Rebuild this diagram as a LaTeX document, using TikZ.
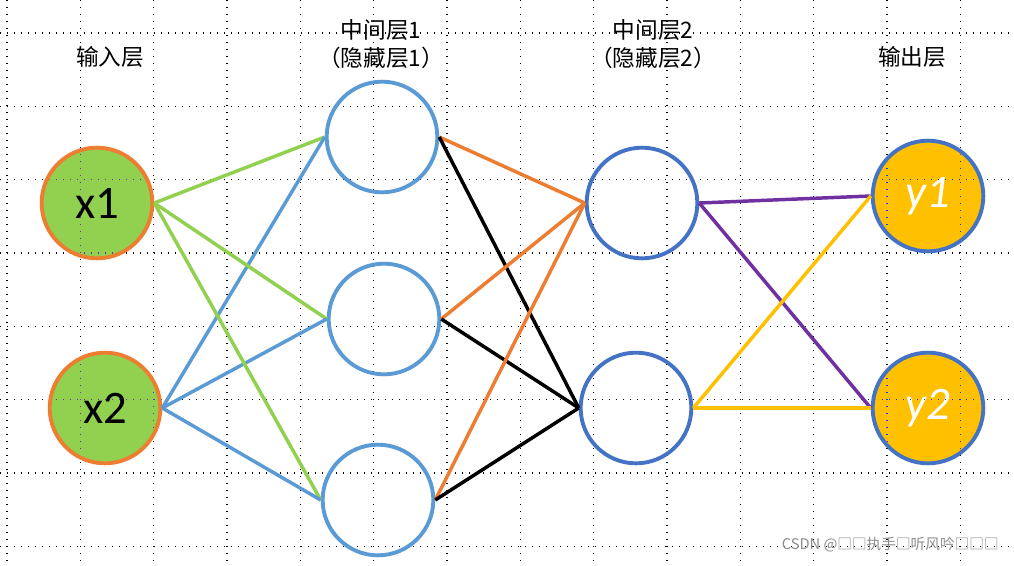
\documentclass[tikz,border=0pt]{standalone}
\usepackage{fontspec}
\newfontfamily\cjkfont{Noto Sans CJK SC}
\newfontfamily\calfont{Carlito}
\definecolor{ingreen}{RGB}{146,208,80}
\definecolor{inorange}{RGB}{237,125,49}
\definecolor{hidblue}{RGB}{91,155,213}
\definecolor{darkblue}{RGB}{68,114,196}
\definecolor{outgold}{RGB}{255,192,0}
\definecolor{purp}{RGB}{112,48,160}
\definecolor{dotgreen}{RGB}{109,47,175}
\definecolor{dotgold}{RGB}{0,63,255}
\newcommand\mygrid[1]{%
  \foreach \i in {0,...,13} \draw[gridline,#1] ({7+73.33*\i},0) -- ({7+73.33*\i},565);
  \foreach \j in {0,...,7} \draw[gridline,#1] (0,{33+73.33*\j}) -- (1014,{33+73.33*\j});
}
\begin{document}
\begin{tikzpicture}[x=0.75pt,y=-0.75pt,
  gridline/.style={line width=0.8pt, dash pattern=on 0.8pt off 4.45pt},
  base/.style={circle, minimum size=83pt, inner sep=0pt},
  innode/.style={base, line width=2.9pt, draw=inorange, fill=ingreen, font=\calfont\fontsize{35}{40}\selectfont},
  hidnode/.style={base, line width=2.9pt, draw=hidblue},
  hidtwo/.style={base, line width=2.9pt, draw=darkblue},
  outnode/.style={base, line width=2.9pt, draw=darkblue, fill=outgold, text=white, font=\calfont\itshape\fontsize{35}{40}\selectfont},
  conn/.style={line width=2.6pt},
  lab/.style={font=\cjkfont\fontsize{17}{20.5}\selectfont, align=center, inner sep=0pt}
]
\fill[white] (0,0) rectangle (1014,565);
\useasboundingbox (0,0) rectangle (1014,565);
\mygrid{black}
% nodes
\node[innode] (x1) at (97,203) {x1};
\node[innode] (x2) at (105,408) {x2};
\node[hidnode] (h1) at (382,137) {};
\node[hidnode] (h2) at (384,319) {};
\node[hidnode] (h3) at (378,500) {};
\node[hidtwo] (g1) at (642,203) {};
\node[hidtwo] (g2) at (636,408) {};
\node[outnode] (y1) at (928,196) {y1};
\node[outnode] (y2) at (928,408) {y2};
% connectors
\foreach \h in {h1,h2,h3} {
  \draw[conn, ingreen] (x1.east) -- (\h.west);
  \draw[conn, hidblue] (x2.east) -- (\h.west);
  \draw[conn, inorange] (\h.east) -- (g1.west);
  \draw[conn, black] (\h.east) -- (g2.west);
}
\draw[conn, purp] (g1.east) -- (y1.west);
\draw[conn, purp] (g1.east) -- (y2.west);
\draw[conn, outgold] (g2.east) -- (y1.west);
\draw[conn, outgold] (g2.east) -- (y2.west);
% grid dots over filled circles
\begin{scope}
  \clip (x1.center) circle[radius=53] (x2.center) circle[radius=53];
  \mygrid{dotgreen}
\end{scope}
\begin{scope}
  \clip (y1.center) circle[radius=53] (y2.center) circle[radius=53];
  \mygrid{dotgold}
\end{scope}
% labels
\node[lab] (l0) at (110,57) {输入层};
\node[lab] (l1) at (381,44) {中间层1\\（隐藏层1）};
\node[lab] (l2) at (653,44) {中间层2\\（隐藏层2）};
\node[lab] (l3) at (912,57) {输出层};
\node[anchor=east, inner sep=0pt, text=black!45, font=\cjkfont\fontsize{11}{13}\selectfont] (wm) at (999,545) {CSDN @□□执手□听风吟□□□};
\end{tikzpicture}
\end{document}
